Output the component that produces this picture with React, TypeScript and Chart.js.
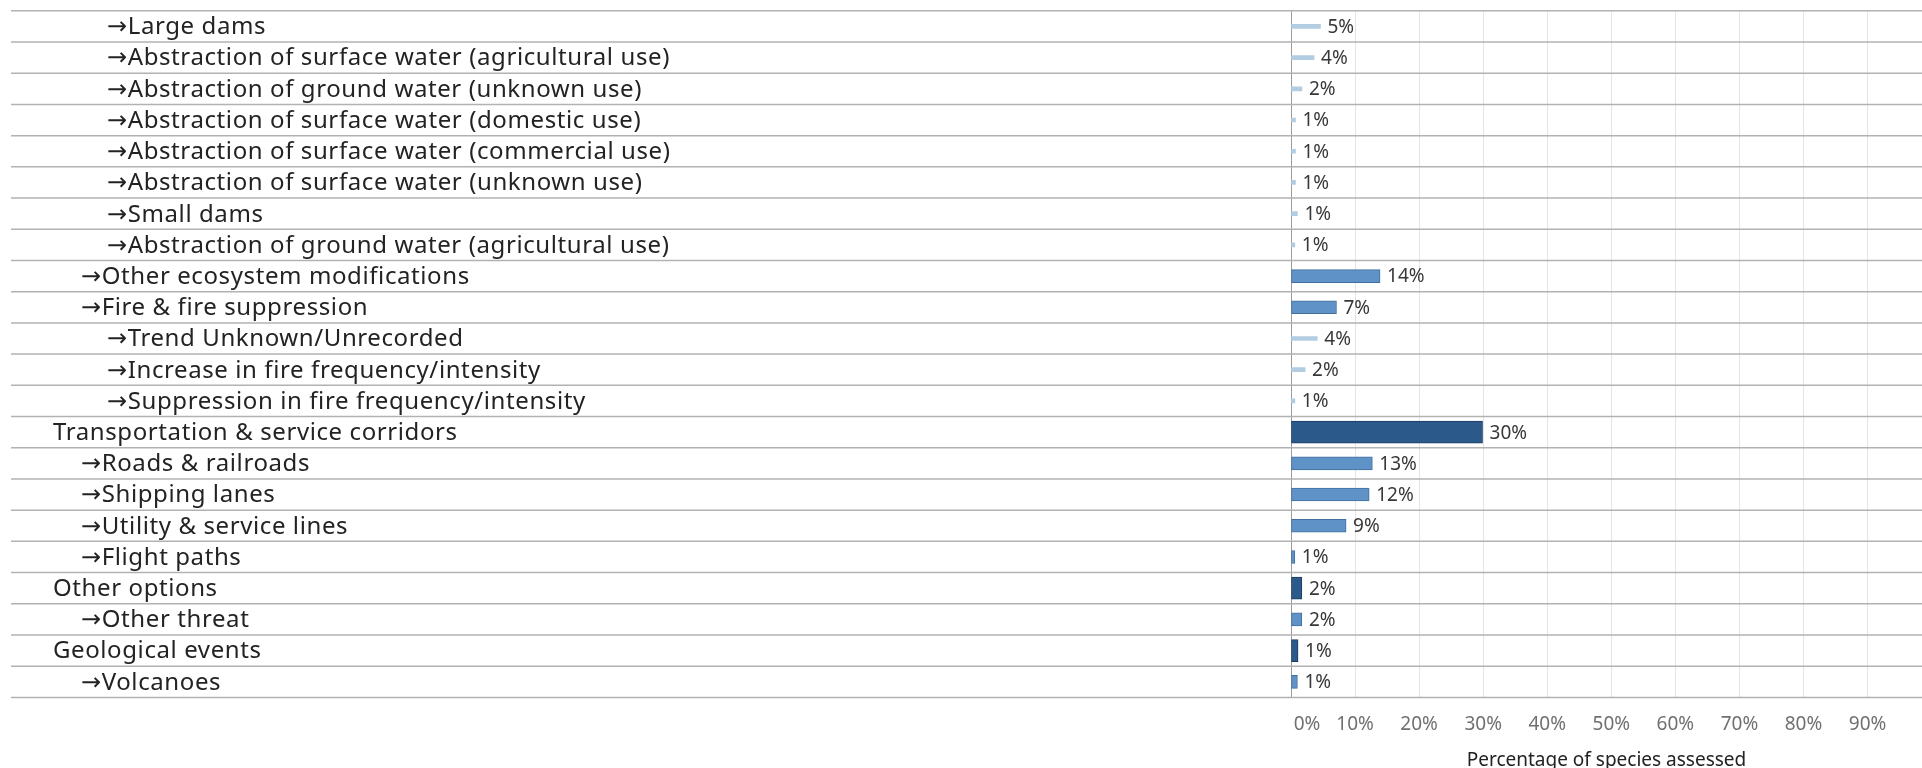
import React, { useEffect, useRef } from "react";
import { Chart, registerables } from "chart.js";

Chart.register(...registerables);

const categories: string[] = [
  "→Large dams",
  "→Abstraction of surface water (agricultural use)",
  "→Abstraction of ground water (unknown use)",
  "→Abstraction of surface water (domestic use)",
  "→Abstraction of surface water (commercial use)",
  "→Abstraction of surface water (unknown use)",
  "→Small dams",
  "→Abstraction of ground water (agricultural use)",
  "→Other ecosystem modifications",
  "→Fire & fire suppression",
  "→Trend Unknown/Unrecorded",
  "→Increase in fire frequency/intensity",
  "→Suppression in fire frequency/intensity",
  "Transportation & service corridors",
  "→Roads & railroads",
  "→Shipping lanes",
  "→Utility & service lines",
  "→Flight paths",
  "Other options",
  "→Other threat",
  "Geological events",
  "→Volcanoes",
];

// hierarchy level of each row (0 = threat, 1 = sub-threat, 2 = sub-sub-threat)
const levels: number[] = [2, 2, 2, 2, 2, 2, 2, 2, 1, 1, 2, 2, 2, 0, 1, 1, 1, 1, 0, 1, 0, 1];

// percentage of species assessed
const values: number[] = [
  4.6, 3.6, 1.7, 0.7, 0.7, 0.7, 1.0, 0.6, 13.9, 7.1, 4.1, 2.2, 0.6, 29.9, 12.7, 12.2, 8.6, 0.6, 1.7, 1.7, 1.1, 1.0,
];

const xTickValues: number[] = [0, 10, 20, 30, 40, 50, 60, 70, 80, 90];
const xMax = 98.5;
const axisTitle = "Percentage of species assessed";

const levelFill = ["#2b5a8a", "#5f92c6", "#b2cde1"];
const levelBorder = ["#1b3c62", "#41709e", "#98b8d1"];
const levelThickness = [22, 13, 4];
const levelIndent = [53, 81, 107];

const FONT = '"Noto Sans", "DejaVu Sans", sans-serif';

export default function App() {
  const ref = useRef<HTMLCanvasElement | null>(null);

  useEffect(() => {
    document.body.style.margin = "0";
    document.body.style.overflow = "hidden";
    const canvas = ref.current;
    if (!canvas) return;

    const datasets = [0, 1, 2].map((lvl) => ({
      label: "Level " + lvl,
      data: values.map((v, i) => (levels[i] === lvl ? v : null)),
      backgroundColor: levelFill[lvl],
      borderColor: levelBorder[lvl],
      borderWidth: lvl === 2 ? 0 : 1,
      borderSkipped: false as const,
      grouped: false,
      barThickness: levelThickness[lvl],
      maxBarThickness: levelThickness[lvl],
    }));

    const rowsPlugin = {
      id: "rows",
      beforeDatasetsDraw(chart: any) {
        const { ctx, scales } = chart;
        const y = scales.y;
        const band = y.getPixelForValue(1) - y.getPixelForValue(0);
        ctx.save();
        ctx.strokeStyle = "#b2b2b2";
        ctx.lineWidth = 1.5;
        for (let i = 0; i <= categories.length; i++) {
          const py = y.getPixelForValue(i) - band / 2;
          ctx.beginPath();
          ctx.moveTo(11, py);
          ctx.lineTo(chart.width, py);
          ctx.stroke();
        }
        ctx.restore();
      },
      afterDatasetsDraw(chart: any) {
        const { ctx, scales } = chart;
        const y = scales.y;
        const x = scales.x;
        ctx.save();
        // category labels
        ctx.font = `24px ${FONT}`;
        (ctx as any).letterSpacing = "0.6px";
        ctx.fillStyle = "#232323";
        ctx.textBaseline = "middle";
        ctx.textAlign = "left";
        categories.forEach((c, i) => {
          ctx.fillText(c, levelIndent[levels[i]], y.getPixelForValue(i) + 1);
        });
        (ctx as any).letterSpacing = "0px";
        // value labels
        ctx.font = `19px ${FONT}`;
        ctx.fillStyle = "#383838";
        chart.data.datasets.forEach((ds: any, d: number) => {
          const meta = chart.getDatasetMeta(d);
          meta.data.forEach((el: any, i: number) => {
            const v = ds.data[i];
            if (v === null || v === undefined) return;
            ctx.fillText(Math.round(v) + "%", el.x + 7, el.y + 1);
          });
        });
        // x tick labels (first one nudged inside like the original)
        ctx.font = `19px ${FONT}`;
        ctx.fillStyle = "#707070";
        ctx.textAlign = "center";
        xTickValues.forEach((v) => {
          const px = x.getPixelForValue(v) + (v === 0 ? 16 : 0);
          ctx.fillText(v + "%", px, 724.5);
        });
        ctx.restore();
      },
    };

    const chart = new Chart(canvas, {
      type: "bar",
      data: { labels: categories, datasets },
      options: {
        animation: false,
        responsive: false,
        indexAxis: "y",
        layout: { padding: { top: 10.8, right: 0, bottom: 0, left: 0 } },
        plugins: { legend: { display: false }, tooltip: { enabled: false } },
        scales: {
          x: {
            type: "linear",
            min: 0,
            max: xMax,
            afterBuildTicks: (s: any) => {
              s.ticks = xTickValues.map((v) => ({ value: v }));
            },
            afterFit: (s: any) => {
              s.height = 70.6;
            },
            ticks: { display: false },
            grid: {
              color: (c: any) => (c.tick && c.tick.value === 0 ? "rgba(0,0,0,0)" : "#e4e4e4"),
              drawTicks: false,
              lineWidth: 1,
            },
            border: { display: false },
            title: {
              display: true,
              text: axisTitle,
              font: { size: 19, family: FONT, lineHeight: 1.0 },
              color: "#222222",
              padding: { top: 0, bottom: -2 },
            },
          },
          y: {
            type: "category",
            offset: true,
            afterFit: (s: any) => {
              s.width = 1291;
            },
            ticks: { display: false },
            grid: { display: false },
            border: { display: true, color: "#9c9c9c", width: 1 },
          },
        },
      },
      plugins: [rowsPlugin],
    });

    return () => chart.destroy();
  }, []);

  return (
    <div style={{ position: "fixed", left: 0, top: 0, width: 1922, height: 768 }}>
      <canvas ref={ref} width={1922} height={768} style={{ display: "block" }} />
    </div>
  );
}
